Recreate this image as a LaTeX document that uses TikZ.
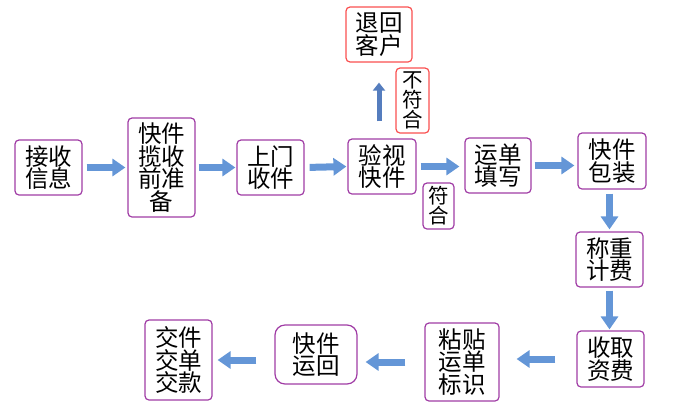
\documentclass[tikz,border=0pt]{standalone}
\usepackage{fontspec}
\setmainfont{Noto Sans CJK SC}
\usetikzlibrary{arrows.meta}
\definecolor{boxpurple}{RGB}{160,60,165}
\definecolor{boxred}{RGB}{250,80,80}
\definecolor{arrblue}{RGB}{100,150,215}
\definecolor{arrlight}{RGB}{160,195,240}
\definecolor{arrdark}{RGB}{85,125,190}
\begin{document}
\begin{tikzpicture}[x=1pt,y=-1pt,
  stepbox/.style={draw=boxpurple, line width=1.2pt, rounded corners=4pt, fill=white,
    align=center, inner sep=0pt, font=\fontsize{23.5}{22.5}\selectfont},
  redbox/.style={stepbox, draw=boxred},
  tagbox/.style={font=\fontsize{20.5}{18.5}\selectfont},
  flow/.style={line width=7pt, arrblue, -{Triangle[width=17pt,length=13pt]}},
  upflow/.style={line width=5pt, arrdark, -{Triangle[width=12pt,length=8pt]}}]
\useasboundingbox (0,0) rectangle (693,416);

% top row
\node[stepbox, minimum width=67pt, minimum height=55pt] (n1) at (48.5,167.5) {接收\\信息};
\node[stepbox, minimum width=67pt, minimum height=99pt] (n2) at (161.5,167.5) {快件\\揽收\\前准\\备};
\node[stepbox, minimum width=67pt, minimum height=55pt] (n3) at (270.5,167.5) {上门\\收件};
\node[stepbox, minimum width=68pt, minimum height=55pt] (n4) at (382,166.5) {验视\\快件};
\node[stepbox, minimum width=66pt, minimum height=55pt] (n5) at (498,165.5) {运单\\填写};
\node[stepbox, minimum width=68pt, minimum height=56pt] (n6) at (612,161) {快件\\包装};
% right column
\node[stepbox, minimum width=67pt, minimum height=55pt] (n7) at (609.5,259.5) {称重\\计费};
\node[stepbox, minimum width=67pt, minimum height=56pt] (n8) at (610.5,359) {收取\\资费};
% bottom row
\node[stepbox, minimum width=74pt, minimum height=78pt] (n9) at (462,362) {粘贴\\运单\\标识};
\node[stepbox, rounded corners=10pt, minimum width=82pt, minimum height=59pt] (n10) at (316,354.5) {快件\\运回};
\node[stepbox, minimum width=67pt, minimum height=80pt] (n11) at (178.5,360) {交件\\交单\\交款};
% reject branch
\node[redbox, minimum width=66pt, minimum height=55pt] (r1) at (379,34.5) {退回\\客户};
\node[redbox, tagbox, minimum width=33pt, minimum height=65pt] (l1) at (412.5,100.5) {不\\符\\合};
\node[stepbox, tagbox, minimum width=31pt, minimum height=46pt] (l2) at (438.5,206) {符\\合};

% connectors
\draw[flow, shorten <=4pt, shorten >=2pt] (n1.east) -- (n2.west);
\draw[flow, shorten <=3pt, shorten >=1pt] (n2.east) -- (n3.west);
\draw[flow, shorten <=5pt, shorten >=1pt] (n3.east) -- (n4.west);
\draw[flow, shorten <=4pt, shorten >=5pt] (n4.east) -- (n4.east -| n5.west);
\draw[flow, shorten <=3pt, shorten >=3pt] (n5.east) -- (n5.east -| n6.west);
\draw[flow, shorten <=4pt, shorten >=2pt] (n7.north |- n6.south) -- (n7.north);
\draw[flow, shorten <=3pt, shorten >=1pt] (n7.south) -- (n7.south |- n8.north);
\draw[flow, shorten <=21pt, shorten >=17pt] (n8.west) -- (n8.west -| n9.east);
\draw[flow, shorten <=19pt, shorten >=8pt] (n9.west) -- (n9.west -| n10.east);
\draw[flow, shorten <=18pt, shorten >=5pt] (n11.east -| n10.west) -- (n11.east);
\draw[upflow, shorten <=17pt, shorten >=20pt] (r1.south |- n4.north) -- (r1.south);
\end{tikzpicture}
\end{document}
